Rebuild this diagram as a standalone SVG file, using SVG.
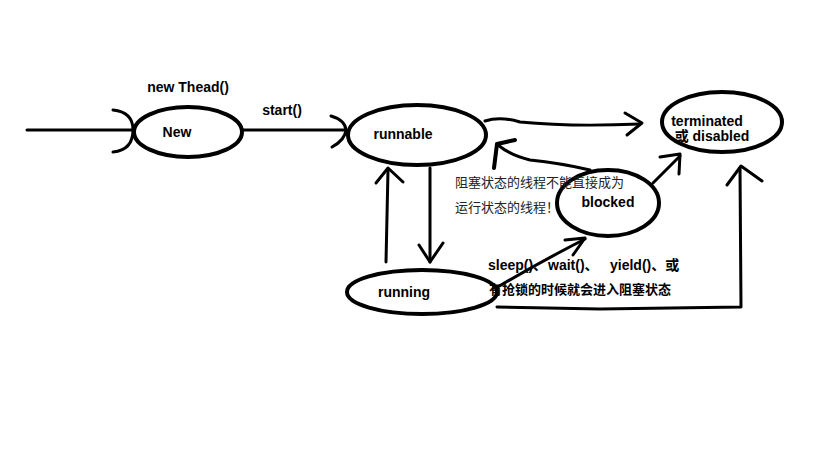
<svg xmlns="http://www.w3.org/2000/svg" width="819" height="460" viewBox="0 0 819 460">
<style>
.st{fill:none;stroke:#000;stroke-width:4;stroke-linecap:round;stroke-linejoin:round}
.ln{fill:none;stroke:#000;stroke-width:3;stroke-linecap:round;stroke-linejoin:round}
.lb{font-family:"Liberation Sans","Noto Sans CJK SC",sans-serif;font-size:14px;font-weight:bold;fill:#000}
.lc{font-family:"Liberation Sans","Noto Sans CJK SC",sans-serif;font-size:13px;font-weight:bold;fill:#000}
.cn{font-family:"Liberation Sans","Noto Sans CJK SC",sans-serif;font-size:13px;fill:#222}
</style>
<rect width="819" height="460" fill="#fff"/>
<g id="connectors">
<path class="ln" d="M27,130 L133,130"/>
<path class="ln" d="M113,110 Q133,112 133,130 Q133,150 113,152"/>
<path class="ln" d="M243,130 L345,130"/>
<path class="ln" d="M331,116 Q345,120 346,130 Q345,140 332,147"/>
<path class="ln" d="M485,121 Q500,116 520,122 Q570,127 640,124"/>
<path class="ln" d="M625,113 L642,123 L627,135"/>
<path class="ln" d="M386,262 L388,170"/>
<path class="ln" d="M376,183 L388,168 L403,182"/>
<path class="ln" d="M430,168 L430,262"/>
<path class="ln" d="M419,245 L430,262 L443,243"/>
<path class="ln" d="M590,170 Q560,163 530,160 Q510,155 498,145"/>
<path class="st" d="M497,144 L515,140 M497,144 L494,168"/>
<path class="ln" d="M496,288 Q540,262 585,239"/>
<path class="ln" d="M565,240 L585,238 L573,255"/>
<path class="ln" d="M653,183 L680,156"/>
<path class="ln" d="M660,157 L680,154 L679,174"/>
<path class="ln" d="M497,307 L600,309 L741,307 L740,168"/>
<path class="ln" d="M727,185 L741,166 L762,181"/>
</g>
<g id="node-new">
<ellipse class="st" cx="188" cy="132" rx="54" ry="25"/>
<text class="lb" x="177" y="137" text-anchor="middle">New</text>
</g>
<text class="lb" x="188" y="92" text-anchor="middle">new Thead()</text>
<text class="lb" x="282" y="115" text-anchor="middle">start()</text>
<g id="node-runnable">
<ellipse class="st" cx="417" cy="135" rx="69" ry="30"/>
<text class="lb" x="403" y="139" text-anchor="middle">runnable</text>
</g>
<g id="node-terminated">
<ellipse class="st" cx="722" cy="122" rx="60" ry="30"/>
<text class="lb" x="707" y="126" text-anchor="middle">terminated</text>
<text class="lb" x="712" y="141" text-anchor="middle">或 disabled</text>
</g>
<g id="node-blocked">
<ellipse class="st" cx="608" cy="203" rx="51" ry="33"/>
<text class="lb" x="608" y="207" text-anchor="middle">blocked</text>
</g>
<g id="node-running">
<ellipse class="st" cx="422" cy="292" rx="75" ry="22"/>
<text class="lb" x="404" y="297" text-anchor="middle">running</text>
</g>
<text class="cn" x="455" y="187">阻塞状态的线程不能直接成为</text>
<text class="cn" x="455" y="212">运行状态的线程！</text>
<text class="lb" x="488" y="270">sleep()、<tspan x="548">wait()、</tspan><tspan x="610">yield()、或</tspan></text>
<text class="lc" x="489" y="294">有抢锁的时候就会进入阻塞状态</text>
</svg>
